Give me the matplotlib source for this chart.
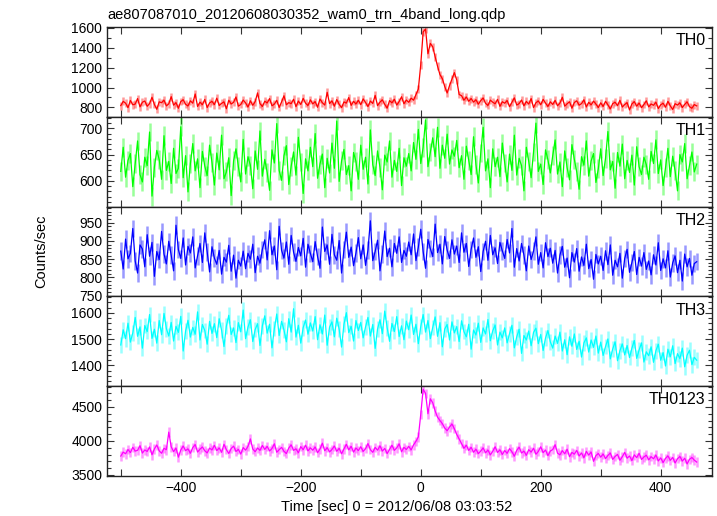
"""WAM 4-band light curve (TH0..TH3 and the summed TH0123) around a burst."""

import matplotlib
matplotlib.use("Agg")
import matplotlib.pyplot as plt
import numpy as np
from matplotlib.ticker import MultipleLocator

plt.rcParams["font.family"] = ["Liberation Sans", "DejaVu Sans"]

TITLE = "ae807087010_20120608030352_wam0_trn_4band_long.qdp"
XLABEL = "Time [sec] 0 = 2012/06/08 03:03:52"
YLABEL = "Counts/sec"

TIME_START = -500   # sec, first bin
BIN_SEC = 4         # sec per bin

# counts/sec, one value per 4 s bin from -500 s to +460 s
TH0 = [
    818, 861, 842, 797, 870, 826, 833, 889, 805, 852, 864, 811, 838, 902, 829, 781, 856, 847, 873, 815,
    836, 908, 822, 848, 791, 859, 877, 831, 814, 866, 842, 935, 809, 853, 826, 880, 798, 845, 861, 827,
    893, 819, 840, 856, 786, 872, 834, 851, 905, 812, 829, 874, 845, 803, 867, 821, 858, 946, 838, 809,
    862, 844, 889, 816, 833, 871, 799, 855, 917, 826, 848, 837, 882, 807, 864, 829, 891, 842, 818, 876,
    835, 858, 801, 884, 847, 823, 952, 838, 866, 812, 879, 831, 797, 855, 843, 899, 820, 861, 834, 872,
    827, 886, 849, 808, 864, 839, 921, 817, 853, 876, 830, 792, 868, 845, 882, 823, 859, 907, 836, 874,
    851, 893, 872, 928, 985, 1230, 1560, 1590, 1340, 1445, 1410, 1310, 1215, 1130, 1090, 1010, 945, 1020, 1085, 1150,
    1075, 930, 918, 872, 905, 861, 889, 853, 877, 832, 868, 895, 841, 819, 873, 852, 836, 881, 810, 857,
    842, 869, 807, 851, 896, 823, 838, 874, 815, 860, 833, 889, 798, 847, 865, 826, 881, 843, 809, 856,
    829, 871, 816, 843, 902, 812, 836, 857, 791, 849, 866, 822, 838, 877, 804, 851, 825, 863, 834, 798,
    846, 809, 861, 825, 784, 838, 852, 817, 871, 803, 829, 848, 774, 835, 858, 812, 844, 797, 829, 866,
    805, 834, 821, 853, 788, 826, 842, 801, 861, 815, 779, 837, 823, 846, 798, 830, 856, 807, 791, 828,
    815,
]
TH1 = [
    618, 664, 607, 639, 652, 589, 633, 676, 612, 598, 645, 629, 693, 571, 626, 658, 641, 603, 686, 620,
    637, 595, 662, 614, 624, 703, 606, 648, 579, 633, 671, 619, 642, 587, 656, 628, 610, 668, 635, 592,
    653, 621, 687, 604, 617, 644, 572, 638, 661, 627, 598, 679, 613, 646, 630, 585, 657, 622, 695, 609,
    641, 616, 582, 659, 634, 709, 620, 601, 648, 667, 593, 628, 655, 611, 683, 636, 576, 642, 619, 664,
    627, 690, 605, 632, 651, 587, 643, 615, 672, 624, 714, 599, 638, 660, 612, 629, 581, 654, 637, 603,
    668, 622, 645, 594, 697, 631, 610, 657, 626, 583, 649, 636, 676, 607, 639, 618, 662, 591, 644, 628,
    652, 619, 673, 641, 698, 633, 664, 716, 627, 655, 682, 646, 702, 624, 668, 643, 689, 632, 659, 647,
    677, 625, 648, 603, 666, 639, 612, 684, 631, 596, 653, 702, 619, 642, 587, 661, 627, 645, 608, 672,
    634, 598, 651, 620, 687, 611, 643, 629, 581, 664, 637, 606, 655, 710, 618, 632, 593, 659, 640, 615,
    648, 678, 613, 636, 589, 657, 625, 602, 669, 641, 617, 584, 646, 630, 676, 609, 638, 652, 597, 623,
    661, 610, 643, 694, 621, 637, 586, 654, 628, 670, 604, 639, 616, 649, 592, 665, 627, 612, 645, 631,
    603, 656, 633, 678, 614, 640, 591, 625, 662, 608, 647, 619, 581, 650, 636, 671, 604, 629, 655, 617,
    632,
]
TH2 = [
    872, 823, 905, 851, 866, 934, 845, 812, 889, 878, 829, 917, 858, 896, 803, 871, 849, 926, 864, 837,
    899, 861, 818, 943, 876, 852, 908, 834, 885, 867, 911, 826, 859, 893, 841, 922, 870, 815, 884, 853,
    836, 874, 809, 855, 842, 888, 817, 861, 798, 847, 831, 872, 824, 866, 850, 891, 813, 858, 839, 877,
    903, 848, 928, 862, 886, 821, 940, 874, 853, 897, 836, 915, 869, 844, 882, 859, 907, 828, 891, 866,
    843, 898, 857, 825, 938, 871, 889, 836, 918, 862, 847, 901, 812, 876, 924, 855, 883, 832, 867, 909,
    851, 889, 833, 875, 955, 846, 871, 902, 818, 864, 927, 857, 880, 829, 893, 866, 911, 841, 874, 858,
    897, 862, 919, 846, 883, 932, 871, 825, 904, 879, 857, 946, 868, 891, 837, 912, 875, 852, 903, 864,
    886, 841, 922, 869, 893, 830, 877, 908, 855, 884, 816, 871, 899, 847, 915, 862, 881, 838, 896, 873,
    852, 904, 867, 934, 828, 879, 845, 893, 861, 818, 886, 849, 872, 911, 836, 868, 826, 895, 857, 880,
    839, 874, 812, 861, 885, 828, 853, 799, 868, 842, 879, 817, 856, 833, 891, 824, 849, 795, 863, 837,
    858, 819, 873, 835, 889, 806, 847, 829, 866, 798, 852, 877, 814, 841, 871, 808, 855, 831, 868, 822,
    845, 807, 862, 834, 895, 819, 851, 826, 873, 801, 840, 859, 813, 847, 790, 864, 829, 852, 806, 838,
    843,
]
TH3 = [
    1478, 1536, 1502, 1561, 1489, 1524, 1583, 1511, 1547, 1466, 1552, 1529, 1594, 1503, 1538, 1485, 1571, 1517, 1598, 1540,
    1512, 1564, 1493, 1549, 1526, 1587, 1455, 1531, 1572, 1508, 1545, 1519, 1604, 1497, 1556, 1533, 1481, 1568, 1522, 1559,
    1506, 1578, 1534, 1472, 1550, 1591, 1518, 1543, 1487, 1563, 1528, 1611, 1502, 1546, 1574, 1491, 1537, 1559, 1476, 1551,
    1589, 1523, 1557, 1467, 1541, 1596, 1514, 1568, 1535, 1490, 1578, 1527, 1616, 1508, 1553, 1485, 1544, 1573, 1519, 1562,
    1531, 1586, 1498, 1555, 1520, 1592, 1477, 1546, 1566, 1509, 1580, 1538, 1470, 1557, 1601, 1525, 1549, 1493, 1571, 1533,
    1564, 1505, 1547, 1583, 1512, 1556, 1465, 1539, 1574, 1521, 1607, 1544, 1492, 1560, 1529, 1586, 1510, 1551, 1498, 1569,
    1536, 1592, 1518, 1557, 1483, 1548, 1594, 1527, 1571, 1502, 1545, 1585, 1511, 1563, 1471, 1539, 1556, 1497, 1566, 1524,
    1548, 1491, 1570, 1529, 1509, 1557, 1462, 1535, 1516, 1561, 1488, 1543, 1520, 1575, 1494, 1532, 1554, 1478, 1527, 1505,
    1543, 1486, 1521, 1553, 1467, 1509, 1538, 1446, 1514, 1497, 1531, 1475, 1526, 1542, 1483, 1518, 1457, 1505, 1533, 1490,
    1466, 1512, 1484, 1527, 1455, 1498, 1441, 1509, 1473, 1520, 1461, 1492, 1432, 1486, 1505, 1451, 1497, 1469, 1512, 1447,
    1489, 1438, 1472, 1501, 1425, 1463, 1490, 1418, 1456, 1482, 1440, 1476, 1430, 1466, 1495, 1427, 1459, 1486, 1413, 1452,
    1437, 1471, 1412, 1456, 1481, 1420, 1449, 1398, 1462, 1433, 1475, 1407, 1445, 1426, 1466, 1395, 1439, 1458, 1403, 1431,
    1420,
]
TH0123 = [
    3778, 3836, 3812, 3874, 3829, 3907, 3851, 3863, 3931, 3822, 3868, 3846, 3912, 3797, 3883, 3941, 3855, 3819, 3892, 3871,
    4130, 3915, 3843, 3897, 3762, 3868, 3926, 3858, 3884, 3819, 3903, 3947, 3837, 3879, 3912, 3856, 3824, 3895, 3868, 3936,
    3859, 3898, 3833, 3951, 3872, 3816, 3889, 3924, 3846, 3877, 3807, 3903, 3865, 3920, 4030, 3881, 3842, 3897, 3861, 3934,
    3876, 3921, 3853, 3889, 3958, 3834, 3872, 3906, 3848, 3815, 3896, 3943, 3862, 3885, 3826, 3917, 3871, 3938, 3854, 3899,
    3864, 3912, 3827, 3881, 3967, 3856, 3902, 3839, 3875, 3926, 3848, 3893, 3811, 3884, 3951, 3869, 3921, 3836, 3897, 3858,
    3915, 3846, 3887, 3962, 3873, 3833, 3906, 3864, 3929, 3851, 3890, 3814, 3877, 3938, 3862, 3899, 3958, 3841, 3906, 3874,
    3921, 3868, 3942, 3995, 4060, 4390, 4760, 4700, 4400, 4620, 4560, 4440, 4350, 4300, 4255, 4190, 4150, 4205, 4250, 4180,
    4095, 4030, 3960, 3892, 3938, 3861, 3907, 3834, 3879, 3813, 3852, 3898, 3826, 3867, 3795, 3848, 3915, 3831, 3870, 3802,
    3859, 3818, 3887, 3841, 3776, 3862, 3909, 3823, 3851, 3789, 3872, 3836, 3893, 3805, 3846, 3914, 3828, 3867, 3784, 3852,
    3874, 3945, 3821, 3796, 3858, 3811, 3879, 3768, 3832, 3806, 3861, 3779, 3824, 3753, 3847, 3792, 3838, 3701, 3785, 3816,
    3762, 3809, 3741, 3787, 3824, 3729, 3772, 3803, 3716, 3768, 3832, 3747, 3779, 3712, 3796, 3755, 3819, 3728, 3764, 3791,
    3722, 3769, 3738, 3794, 3706, 3751, 3682, 3744, 3781, 3715, 3758, 3676, 3739, 3772, 3704, 3746, 3662, 3731, 3757, 3718,
    3690,
]

BANDS = ["TH0", "TH1", "TH2", "TH3", "TH0123"]
SERIES = [TH0, TH1, TH2, TH3, TH0123]
ERRORS = [40, 18, 24, 30, 70]          # typical 1-sigma per bin
COLORS = ["#ff0000", "#00ff00", "#0000ff", "#00ffff", "#ff00ff"]
YLIMS = [(705, 1610), (551, 722), (748, 994), (1321, 1663), (3485, 4805)]
YMAJOR = [200, 50, 50, 100, 500]
YMINOR = [100, 10, 10, 20, 100]

fig = plt.figure(figsize=(7.17, 5.16), dpi=100)
left, right = 107 / 717, 711.7 / 717
top, bottom = 1 - 27 / 516, 1 - 476 / 516
panel_h = (top - bottom) / len(BANDS)

for k, (name, vals, err, col, ylim, ymaj, ymin) in enumerate(
        zip(BANDS, SERIES, ERRORS, COLORS, YLIMS, YMAJOR, YMINOR)):
    ax = fig.add_axes([left, top - (k + 1) * panel_h, right - left, panel_h])
    y = np.asarray(vals, dtype=float)
    t = TIME_START + BIN_SEC * np.arange(len(y))
    ax.vlines(t, y - err, y + err, color=col, alpha=0.4, linewidth=1.8)
    ax.plot(t, y, color=col, linewidth=0.9)

    ax.set_xlim(-523, 485)
    ax.set_ylim(*ylim)
    ax.xaxis.set_major_locator(MultipleLocator(200))
    ax.xaxis.set_minor_locator(MultipleLocator(100))
    ax.yaxis.set_major_locator(MultipleLocator(ymaj))
    ax.yaxis.set_minor_locator(MultipleLocator(ymin))
    ax.tick_params(which="both", direction="in", top=True, right=True,
                   labelsize=10, width=0.8, color="#333333")
    ax.tick_params(which="major", length=5)
    ax.tick_params(which="minor", length=3)
    ax.tick_params(axis="x", which="minor", length=5)
    for sp in ax.spines.values():
        sp.set_linewidth(1.0)
        sp.set_color("#222222")
    if k < len(BANDS) - 1:
        ax.tick_params(labelbottom=False)
    ax.text(0.99, 0.93, name, transform=ax.transAxes, ha="right", va="top",
            fontsize=11.5)

fig.text(left, 1 - 15.5 / 516, TITLE, ha="left", va="center", fontsize=10.5)
fig.text(397 / 717, 1 - 507 / 516, XLABEL, ha="center", va="center", fontsize=10.5)
fig.text(41 / 717, 1 - 251 / 516, YLABEL, ha="center", va="center",
         rotation=90, fontsize=10.5)

fig.savefig("out.png", dpi=100)
